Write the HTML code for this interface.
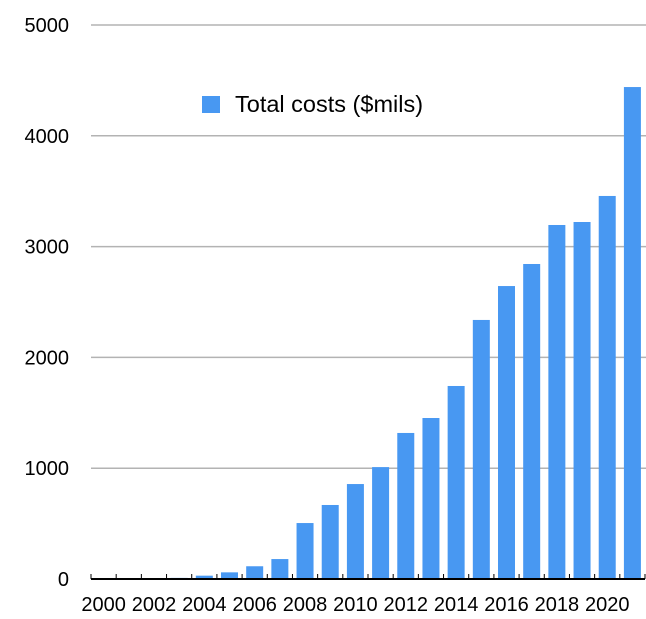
<!DOCTYPE html>
<html><head><meta charset="utf-8"><style>
body{margin:0;background:#fff;}
svg text{font-family:"Liberation Sans",Arial,sans-serif;fill:#000;}
</style></head><body>
<svg width="646" height="614" viewBox="0 0 646 614" xmlns="http://www.w3.org/2000/svg">
<g id="grid"></g>
<g id="ylabels"></g>
<g id="bars"></g>
<g id="xaxis"></g>
<g>
<rect x="202" y="96" width="18" height="17" fill="#4898f2"/>
<text x="235" y="112" font-size="23.5">Total costs ($mils)</text>
</g>
</svg>
<script>
const years=[2000,2001,2002,2003,2004,2005,2006,2007,2008,2009,2010,2011,2012,2013,2014,2015,2016,2017,2018,2019,2020,2021];
const costs=[0,0,0,10,30,60,115,180,505,668,857,1010,1318,1453,1742,2338,2644,2843,3195,3222,3457,4440];
const yTicks=[0,1000,2000,3000,4000,5000];
const xLabels=[2000,2002,2004,2006,2008,2010,2012,2014,2016,2018,2020];
const NS="http://www.w3.org/2000/svg";
const L=91,R=645,Y0=579,Y1=25,YMAX=5000;
const slot=(R-L)/years.length;
const y=v=>Y0-(v/YMAX)*(Y0-Y1);
const xc=i=>L+slot*(i+0.5);
function mk(t,a,p){const e=document.createElementNS(NS,t);for(const k in a)e.setAttribute(k,a[k]);p.appendChild(e);return e;}
const grid=document.getElementById('grid'),yl=document.getElementById('ylabels'),bars=document.getElementById('bars'),xa=document.getElementById('xaxis');
yTicks.forEach(v=>{
 if(v>0){const g=mk('line',{x1:L,x2:646,y1:y(v),y2:y(v),stroke:'#b3b3b3','stroke-width':1.5},grid);
 
 }
 const t=mk('text',{x:69,y:y(v)+7,'text-anchor':'end','font-size':20},yl);t.textContent=v;
 
 
});
costs.forEach((v,i)=>{
 const r=mk('rect',{x:xc(i)-8.5,y:y(v),width:17,height:Y0-y(v),fill:'#4898f2'},bars);
 
 
});
const ax=mk('line',{x1:L,x2:R,y1:Y0,y2:Y0,stroke:'#000','stroke-width':2},xa);


for(let i=0;i<=years.length;i++){
 const tk=mk('line',{x1:L+slot*i,x2:L+slot*i,y1:Y0-5,y2:Y0,stroke:'#000','stroke-width':1},xa);
 
 
}
xLabels.forEach(yr=>{
 const i=years.indexOf(yr);
 const t=mk('text',{x:xc(i),y:611,'text-anchor':'middle','font-size':20},xa);t.textContent=yr;
 
 
});
</script>
</body></html>
